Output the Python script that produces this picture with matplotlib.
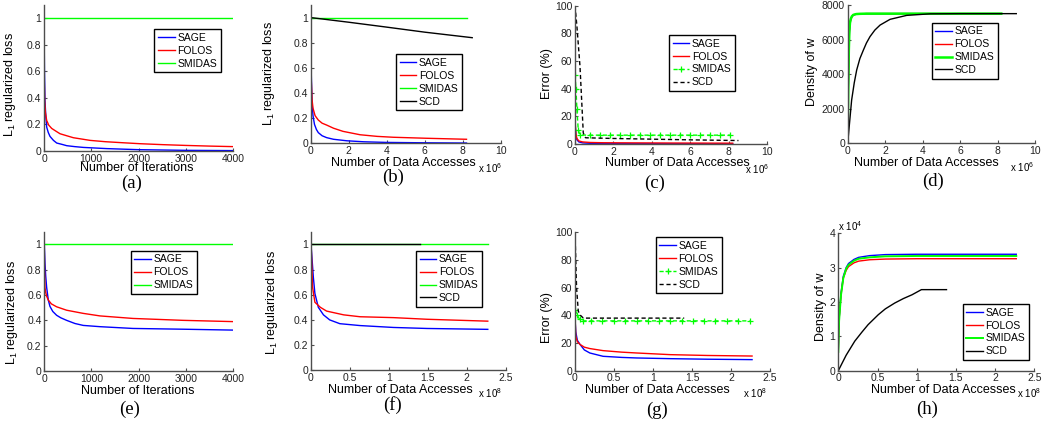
import numpy as np
import matplotlib
matplotlib.use("Agg")
import matplotlib.pyplot as plt

plt.rcParams['font.family'] = ['Liberation Sans', 'DejaVu Sans']
plt.rcParams['mathtext.fontset'] = 'custom'
plt.rcParams['mathtext.rm'] = 'Liberation Sans'
plt.rcParams['mathtext.it'] = 'Liberation Sans:italic'

# ---- data ----
# (a) loss vs iterations, small set
a_sage_x = [0, 10, 21, 40, 57, 90, 127, 200, 269, 380, 481, 650, 834, 1330, 2000, 3000, 4000]
a_sage = [1.0, 0.6, 0.38, 0.25, 0.18, 0.14, 0.11, 0.08, 0.06, 0.05, 0.04, 0.033, 0.027, 0.018, 0.01, 0.005, 0.003]
a_folos_x = [0, 5, 14, 30, 57, 100, 163, 250, 339, 480, 622, 800, 975, 1300, 1680, 2030, 2500, 3000, 3500, 4000]
a_folos = [0.81, 0.55, 0.38, 0.29, 0.23, 0.195, 0.17, 0.15, 0.13, 0.115, 0.10, 0.09, 0.08, 0.07, 0.062, 0.055, 0.048, 0.042, 0.037, 0.033]
a_smidas_x = [0, 4000]
a_smidas = [1.0, 1.0]

# (b) loss vs data accesses (x 1e6)
b_sage_x = [0, 0.03, 0.07, 0.12, 0.2, 0.3, 0.4, 0.6, 0.84, 1.2, 1.9, 2.8, 4, 6, 8.2]
b_sage = [1.0, 0.55, 0.33, 0.22, 0.15, 0.11, 0.085, 0.06, 0.045, 0.032, 0.02, 0.012, 0.007, 0.004, 0.002]
b_folos_x = [0, 0.03, 0.07, 0.12, 0.23, 0.4, 0.6, 0.84, 1.2, 1.7, 2.6, 3.5, 4.35, 6.1, 8.2]
b_folos = [0.8, 0.5, 0.35, 0.28, 0.22, 0.185, 0.16, 0.145, 0.12, 0.095, 0.068, 0.055, 0.048, 0.04, 0.032]
b_smidas_x = [0, 8.2]
b_smidas = [1.0, 1.0]
b_scd_x = [0, 2, 4, 6, 8.5]
b_scd = [1.0, 0.963, 0.924, 0.884, 0.84]

# (c) error vs data accesses (x 1e6)
c_x = [0, 0.02, 0.05, 0.1, 0.2, 0.4, 0.8, 1.5, 3, 5, 8.2]
c_sage = [20, 12, 6, 3, 1.5, 0.8, 0.5, 0.4, 0.3, 0.25, 0.2]
c_folos = [20, 13, 7, 4, 2.2, 1.5, 1.1, 0.9, 0.8, 0.7, 0.6]
c_smidas_x = [0, 0.05, 0.1, 0.17, 0.26, 0.78, 1.3, 1.82, 2.34, 2.86, 3.38, 3.9, 4.42,
              4.94, 5.46, 5.98, 6.5, 7.02, 7.54, 8.06]
c_smidas = [50, 40, 25, 10, 6.5, 6.4, 6.4, 6.4, 6.4, 6.4, 6.4, 6.4, 6.4,
            6.4, 6.4, 6.4, 6.4, 6.4, 6.4, 6.4]
c_scd_x = [0, 0.1, 0.26, 0.43, 0.55, 2, 4, 6, 8.5]
c_scd = [100, 85, 56, 8, 4.5, 4.0, 3.5, 3.0, 2.5]

# (d) density of w vs data accesses (x 1e6)
d_x = [0, 0.03, 0.06, 0.09, 0.12, 0.16, 0.22, 0.3, 0.45, 0.66, 1, 2, 4, 8.2]
d_sage = [600, 3000, 5200, 6400, 6900, 7150, 7320, 7420, 7470, 7490, 7500, 7500, 7500, 7500]
d_folos = [600, 3100, 5300, 6450, 6920, 7160, 7330, 7420, 7470, 7490, 7500, 7500, 7500, 7500]
d_smidas = [650, 3200, 5400, 6500, 6950, 7180, 7340, 7430, 7475, 7490, 7500, 7500, 7500, 7500]
d_scd_x = [0, 0.05, 0.1, 0.21, 0.35, 0.48, 0.65, 0.84, 1.0, 1.19, 1.45, 1.73, 2.26, 3.15, 4.4, 6, 9.0]
d_scd = [0, 600, 1200, 2500, 3500, 4240, 4900, 5400, 5800, 6170, 6550, 6840, 7170, 7400, 7490, 7500, 7500]

# (e) loss vs iterations, large set
e_sage_x = [0, 15, 30, 50, 85, 120, 180, 261, 350, 473, 650, 825, 1180, 1880, 2940, 4000]
e_sage = [1.0, 0.85, 0.75, 0.66, 0.56, 0.51, 0.47, 0.44, 0.42, 0.40, 0.375, 0.36, 0.35, 0.336, 0.33, 0.323]
e_folos_x = [0, 5, 14, 30, 50, 85, 150, 261, 473, 825, 1180, 1880, 2940, 4000]
e_folos = [0.97, 0.8, 0.66, 0.62, 0.59, 0.56, 0.53, 0.507, 0.48, 0.455, 0.435, 0.415, 0.40, 0.39]
e_smidas_x = [0, 4000]
e_smidas = [1.0, 1.0]

# (f) loss vs data accesses (x 1e8)
f_sage_x = [0, 0.03, 0.05, 0.094, 0.16, 0.24, 0.37, 0.63, 1.06, 1.49, 2.27]
f_sage = [1.0, 0.74, 0.61, 0.50, 0.44, 0.40, 0.37, 0.355, 0.34, 0.332, 0.325]
f_folos_x = [0, 0.02, 0.05, 0.12, 0.2, 0.42, 0.63, 1.06, 1.49, 2.27]
f_folos = [1.03, 0.66, 0.54, 0.50, 0.47, 0.44, 0.425, 0.418, 0.405, 0.39]
f_smidas_x = [0, 2.27]
f_smidas = [1.0, 1.0]
f_scd_x = [0, 1.4]
f_scd = [1.0, 1.0]

# (g) error vs data accesses (x 1e8)
g_x = [0, 0.01, 0.03, 0.064, 0.12, 0.19, 0.36, 0.6, 0.79, 1.22, 1.7, 2.27]
g_sage = [38, 28, 22, 19, 15, 12.8, 10.4, 9.6, 9.2, 8.7, 8.3, 8.0]
g_folos = [40, 25, 21, 19, 17, 16, 14.5, 13.4, 12.8, 11.6, 11.0, 10.6]
g_smidas_x = [0, 0.03, 0.06, 0.1, 0.2, 0.35, 0.5, 0.64, 0.79, 0.93, 1.08, 1.22, 1.37,
              1.51, 1.66, 1.8, 1.95, 2.09, 2.24]
g_smidas = [44, 40, 37, 36, 36, 36, 36, 36, 36, 36, 36, 36, 36,
            36, 36, 36, 36, 36, 36]
g_scd_x = [0, 0.01, 0.02, 0.042, 0.07, 0.107, 0.5, 1.0, 1.4]
g_scd = [100, 80, 60, 43, 40, 38, 38, 38, 38]

# (h) density of w (x 1e4) vs data accesses (x 1e8)
h_x = [0, 0.01, 0.034, 0.064, 0.1, 0.13, 0.2, 0.26, 0.4, 0.6, 1.0, 1.5, 2.27]
h_sage = [0.6, 1.5, 2.25, 2.75, 3.0, 3.12, 3.24, 3.3, 3.35, 3.38, 3.39, 3.39, 3.39]
h_folos = [0.6, 1.5, 2.2, 2.7, 2.92, 3.03, 3.14, 3.19, 3.23, 3.25, 3.26, 3.26, 3.26]
h_smidas = [0.55, 1.45, 2.2, 2.7, 2.97, 3.08, 3.2, 3.26, 3.3, 3.33, 3.34, 3.34, 3.34]
h_scd_x = [0, 0.1, 0.21, 0.3, 0.38, 0.51, 0.6, 0.72, 0.83, 0.94, 1.06, 1.2, 1.38]
h_scd = [0, 0.45, 0.86, 1.12, 1.34, 1.63, 1.8, 1.97, 2.1, 2.21, 2.36, 2.36, 2.36]

W, H = 1042, 423
fig = plt.figure(figsize=(W / 100, H / 100), dpi=100)
AXC = '#4d4d4d'


def fx(x):
    return x / W


def fy(y):
    return 1 - y / H


def make_ax(l, t, r, b, xlim, ylim, xticks, yticks):
    ax = fig.add_axes([fx(l), fy(b), (r - l) / W, (b - t) / H])
    ax.set_xlim(*xlim)
    ax.set_ylim(*ylim)
    ax.set_xticks(xticks)
    ax.set_yticks(yticks)
    ax.set_xticklabels([('%g' % v) for v in xticks])
    ax.set_yticklabels([('%g' % v) for v in yticks])
    for s in ['top', 'right']:
        ax.spines[s].set_visible(False)
    for s in ['left', 'bottom']:
        ax.spines[s].set_color(AXC)
        ax.spines[s].set_linewidth(1.0)
    ax.tick_params(direction='in', length=2.5, width=0.8, color=AXC,
                   labelsize=7.5, pad=2, labelcolor='#222222')
    ax.patch.set_alpha(0)
    return ax


def labels(ax, xlabel, xl_pos, ylabel, yl_pos, tag, tag_pos):
    ax.set_xlabel(xlabel, fontsize=9)
    ax.xaxis.label.set_va('center')
    ax.xaxis.set_label_coords(fx(xl_pos[0]), fy(xl_pos[1]), transform=fig.transFigure)
    ax.set_ylabel(ylabel, fontsize=9)
    ax.yaxis.label.set_va('center')
    ax.yaxis.label.set_ha('center')
    ax.yaxis.set_label_coords(fx(yl_pos[0]), fy(yl_pos[1]), transform=fig.transFigure)
    fig.text(fx(tag_pos[0]), fy(tag_pos[1]), tag, family='Liberation Serif',
             fontsize=13.5, ha='center', va='center')


def legend(ax, pos):
    leg = ax.legend(loc='upper left', bbox_to_anchor=(fx(pos[0]), fy(pos[1])),
                    bbox_transform=fig.transFigure, fontsize=7.5, frameon=True,
                    fancybox=False, edgecolor='black', framealpha=1,
                    borderpad=0.35, handlelength=1.6, handletextpad=0.25,
                    labelspacing=0.28, borderaxespad=0)
    leg.get_frame().set_linewidth(1.0)


def offset(pos, exp):
    fig.text(fx(pos[0]), fy(pos[1]), 'x 10$^{%d}$' % exp, fontsize=7,
             ha='left', va='center')


BLUE, RED, GREEN = '#0000ff', '#ff0000', '#00ff00'
LW = 1.0
loss_label = 'L$_1$ regularized loss'
acc_label = 'Number of Data Accesses'

# (a)
ax = make_ax(44, 5, 233, 151, (0, 4000), (0, 1.1), [0, 1000, 2000, 3000, 4000],
             [0, 0.2, 0.4, 0.6, 0.8, 1])
ax.plot(a_sage_x, a_sage, color=BLUE, lw=LW, label='SAGE')
ax.plot(a_folos_x, a_folos, color=RED, lw=LW, label='FOLOS')
ax.plot(a_smidas_x, a_smidas, color=GREEN, lw=LW, label='SMIDAS')
legend(ax, (154.3, 29.3))
labels(ax, 'Number of Iterations', (136.7, 168), loss_label, (10, 85), '(a)', (131.7, 183))

# (b)
ax = make_ax(310.7, 5, 500.7, 143.3, (0, 10), (0, 1.1), [0, 2, 4, 6, 8, 10],
             [0, 0.2, 0.4, 0.6, 0.8, 1])
ax.plot(b_sage_x, b_sage, color=BLUE, lw=LW, label='SAGE')
ax.plot(b_folos_x, b_folos, color=RED, lw=LW, label='FOLOS')
ax.plot(b_smidas_x, b_smidas, color=GREEN, lw=LW, label='SMIDAS')
ax.plot(b_scd_x, b_scd, color='black', lw=LW, label='SCD')
legend(ax, (396, 54.3))
labels(ax, acc_label, (403, 163), loss_label, (269, 74), '(b)', (393, 177.5))
offset((478.5, 168), 6)

# (c)
ax = make_ax(575, 5.7, 767.3, 144, (0, 10), (0, 100), [0, 2, 4, 6, 8, 10],
             [0, 20, 40, 60, 80, 100])
ax.plot(c_x, c_sage, color=BLUE, lw=LW, label='SAGE')
ax.plot(c_x, c_folos, color=RED, lw=LW, label='FOLOS')
ax.plot(c_smidas_x, c_smidas, color=GREEN, lw=LW, ls=(0, (3, 2)), marker='+',
        ms=4, mew=0.9, label='SMIDAS')
ax.plot(c_scd_x, c_scd, color='black', lw=LW, ls=(0, (3, 2)), label='SCD')
legend(ax, (669, 35))
labels(ax, acc_label, (677, 163), 'Error (%)', (546.7, 74), '(c)', (655, 183.5))
offset((745, 169), 6)

# (d)
ax = make_ax(847.7, 5, 1035, 143.3, (0, 10), (0, 8000), [0, 2, 4, 6, 8, 10],
             [0, 2000, 4000, 6000, 8000])
ax.plot(d_x, d_sage, color=BLUE, lw=LW, label='SAGE')
ax.plot(d_x, d_folos, color=RED, lw=LW, label='FOLOS')
ax.plot(d_x, d_smidas, color=GREEN, lw=1.8, label='SMIDAS')
ax.plot(d_scd_x, d_scd, color='black', lw=LW, label='SCD')
legend(ax, (931.7, 22.7))
labels(ax, acc_label, (926.7, 162.7), 'Density of w', (812.3, 72), '(d)', (933, 181.5))
offset((1010, 167.3), 6)

# (e)
ax = make_ax(44.3, 231.7, 233, 371, (0, 4000), (0, 1.1), [0, 1000, 2000, 3000, 4000],
             [0, 0.2, 0.4, 0.6, 0.8, 1])
ax.plot(e_sage_x, e_sage, color=BLUE, lw=LW, label='SAGE')
ax.plot(e_folos_x, e_folos, color=RED, lw=LW, label='FOLOS')
ax.plot(e_smidas_x, e_smidas, color=GREEN, lw=LW, label='SMIDAS')
legend(ax, (130.7, 250.7))
labels(ax, 'Number of Iterations', (138, 391), loss_label, (11.7, 313), '(e)', (130, 409))

# (f)
ax = make_ax(311, 231.7, 505.7, 370.3, (0, 2.5), (0, 1.1), [0, 0.5, 1, 1.5, 2, 2.5],
             [0, 0.2, 0.4, 0.6, 0.8, 1])
ax.plot(f_sage_x, f_sage, color=BLUE, lw=LW, label='SAGE')
ax.plot(f_folos_x, f_folos, color=RED, lw=LW, label='FOLOS')
ax.plot(f_smidas_x, f_smidas, color=GREEN, lw=LW, label='SMIDAS')
ax.plot(f_scd_x, f_scd, color='black', lw=LW, label='SCD')
legend(ax, (416, 250.7))
labels(ax, acc_label, (400, 390), loss_label, (271.7, 303), '(f)', (393, 405))
offset((478.5, 393.5), 8)

# (g)
ax = make_ax(575, 232.3, 770, 370.7, (0, 2.5), (0, 100), [0, 0.5, 1, 1.5, 2, 2.5],
             [0, 20, 40, 60, 80, 100])
ax.plot(g_x, g_sage, color=BLUE, lw=LW, label='SAGE')
ax.plot(g_x, g_folos, color=RED, lw=LW, label='FOLOS')
ax.plot(g_smidas_x, g_smidas, color=GREEN, lw=LW, ls=(0, (3, 2)), marker='+',
        ms=4, mew=0.9, label='SMIDAS')
ax.plot(g_scd_x, g_scd, color='black', lw=LW, ls=(0, (3, 2)), label='SCD')
legend(ax, (655.7, 237.3))
labels(ax, acc_label, (657, 390), 'Error (%)', (546.7, 317.5), '(g)', (657, 410))
offset((743.3, 393.3), 8)

# (h)
ax = make_ax(838.3, 233.3, 1034.3, 370.7, (0, 2.5), (0, 4), [0, 0.5, 1, 1.5, 2, 2.5],
             [0, 1, 2, 3, 4])
ax.plot(h_x, h_sage, color=BLUE, lw=LW, label='SAGE')
ax.plot(h_x, h_folos, color=RED, lw=LW, label='FOLOS')
ax.plot(h_x, h_smidas, color=GREEN, lw=1.4, label='SMIDAS')
ax.plot(h_scd_x, h_scd, color='black', lw=LW, label='SCD')
legend(ax, (962.7, 304))
labels(ax, acc_label, (943, 390), 'Density of w', (820.7, 307), '(h)', (927, 409))
offset((1017, 393.5), 8)
offset((838.3, 226), 4)

fig.savefig('out.png', dpi=100)
